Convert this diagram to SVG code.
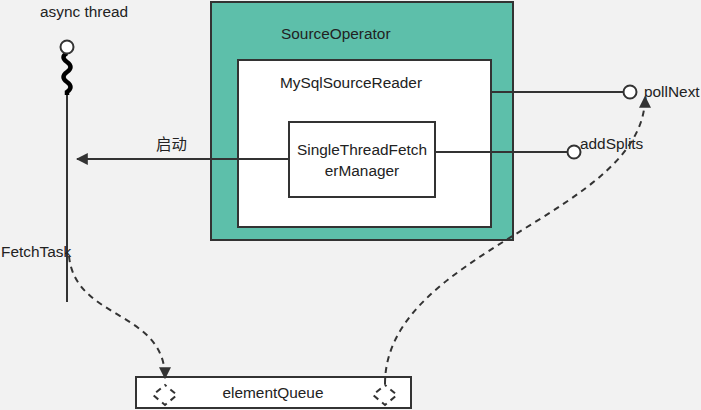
<svg xmlns="http://www.w3.org/2000/svg" width="701" height="410" viewBox="0 0 701 410">
<defs>
<style>
text{font-family:"Liberation Sans","Noto Sans CJK SC",sans-serif;font-size:15.4px;fill:#222}
.box{stroke:#333;stroke-width:2}
.ln{stroke:#333;stroke-width:2;fill:none}
.dash{stroke:#333;stroke-width:2;fill:none;stroke-dasharray:6 5}
.port{fill:#fff;stroke:#333;stroke-width:2}
</style>
<marker id="ah" viewBox="0 0 10 10" refX="9" refY="5" markerWidth="12" markerHeight="12" markerUnits="userSpaceOnUse" orient="auto">
<path d="M0,0 L10,5 L0,10 Z" fill="#333"/>
</marker>
</defs>
<rect x="0" y="0" width="701" height="410" fill="#f2f2f2"/>

<g id="async-thread">
<text x="40" y="17">async thread</text>
<path d="M67,53 q-7,4 0,9 q7,5 0,10 q-7,5 0,10 q7,5 0,10 l0,3" fill="none" stroke="#000" stroke-width="4.5"/>
<circle cx="67" cy="47" r="6.5" class="port"/>
<line x1="67" y1="95" x2="67" y2="302" class="ln"/>
<text x="1" y="257">FetchTask</text>
</g>

<g id="source-operator">
<rect x="211" y="2" width="302" height="238" fill="#5dbfaa" class="box"/>
<text x="281" y="39">SourceOperator</text>
</g>

<g id="mysql-source-reader">
<rect x="238" y="60" width="253" height="167" fill="#fff" class="box"/>
<text x="280" y="88">MySqlSourceReader</text>
</g>

<g id="fetcher-manager">
<rect x="289" y="122" width="146" height="75" fill="#fff" class="box"/>
<text x="362" y="155" text-anchor="middle">SingleThreadFetch</text>
<text x="362" y="176" text-anchor="middle">erManager</text>
</g>

<g id="element-queue">
<rect x="136" y="377" width="275" height="31" fill="#fff" class="box"/>
<text x="273" y="398" text-anchor="middle">elementQueue</text>
<path d="M165,385 L177,395 L165,405 L153,395 Z" class="dash" stroke-dasharray="8 7" stroke-dashoffset="4"/>
<path d="M385,385 L397,395 L385,405 L373,395 Z" class="dash" stroke-dasharray="8 7" stroke-dashoffset="4"/>
</g>

<g id="poll-next">
<circle cx="630" cy="92" r="6.5" class="port"/>
<text x="644" y="97">pollNext</text>
</g>

<g id="add-splits">
<circle cx="574" cy="152" r="6.5" class="port"/>
<text x="580" y="149">addSplits</text>
</g>

<g id="connectors">
<line x1="289" y1="159" x2="77" y2="159" class="ln" marker-end="url(#ah)"/>
<text x="156" y="150">启动</text>
<line x1="491" y1="92" x2="623" y2="92" class="ln"/>
<line x1="435" y1="152" x2="567" y2="152" class="ln"/>
<path d="M69,256 C75,320 165,310 165,378" class="dash" marker-end="url(#ah)"/>
<path d="M385,384 C385,250 645,215 645,97" class="dash" marker-end="url(#ah)"/>
</g>
</svg>
